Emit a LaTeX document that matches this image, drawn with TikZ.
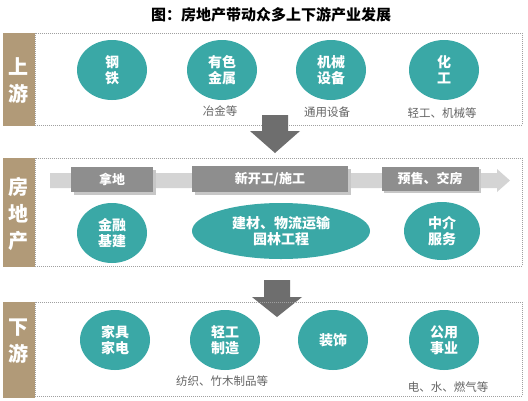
\documentclass[tikz,border=0pt]{standalone}
\usepackage{fontspec}
\setmainfont{Noto Sans CJK SC}
\usetikzlibrary{shapes.geometric}
\definecolor{teal1}{RGB}{58,168,166}
\definecolor{tan1}{RGB}{177,154,120}
\definecolor{gbox}{RGB}{142,142,142}
\definecolor{band}{RGB}{212,212,212}
\definecolor{darr}{RGB}{110,110,110}
\definecolor{dotc}{RGB}{160,160,160}
\definecolor{subc}{RGB}{100,100,100}
\tikzset{
  bub/.style={ellipse, fill=teal1, text=white, font=\bfseries\fontsize{14}{16}\selectfont, align=center, inner sep=0pt, minimum width=70pt, minimum height=60pt},
  sub/.style={text=subc, font=\fontsize{11.5}{13}\selectfont, inner sep=0pt},
  sect/.style={fill=tan1, draw=none},
  sectlab/.style={text=white, font=\bfseries\fontsize{20}{27}\selectfont, align=center, inner sep=0pt},
  frame/.style={draw=dotc, line width=0.9pt, dash pattern=on 0.9pt off 1.1pt},
  stage/.style={fill=gbox, text=white, font=\bfseries\fontsize{13}{15}\selectfont, inner sep=0pt},
  darrow/.style={fill=darr, draw=none}
}
\begin{document}
\begin{tikzpicture}[x=1pt,y=-1pt]
\useasboundingbox (0,0) rectangle (528,400);
\fill[white] (0,0) rectangle (528,400);
% title
\node[font=\bfseries\fontsize{15}{17}\selectfont, inner sep=0pt] (title) at (271,15) {图：房地产带动众多上下游产业发展};

% upper section
\draw[frame] (35,33) rectangle (522,125);
\fill[sect] (3,33) rectangle (35,126);
\node[sectlab] (up) at (19,80) {上\\游};
\node[bub] (u1) at (112,70) {钢\\铁};
\node[bub] (u2) at (222,70) {有色\\金属};
\node[bub] (u3) at (331,70) {机械\\设备};
\node[bub] (u4) at (444,70) {化\\工};
\node[sub] (s2) at (220,111) {冶金等};
\node[sub] (s3) at (327,112) {通用设备};
\node[sub] (s4) at (442,113) {轻工、机械等};

% arrow 1
\fill[darrow] (262,115) -- (288,115) -- (288,131) -- (300,131) -- (275,153) -- (250,131) -- (262,131) -- cycle;

% middle section
\draw[frame] (35,158) rectangle (522,266);
\fill[sect] (3,158) rectangle (35,267);
\node[sectlab] (mid) at (19,214) {房\\地\\产};
\fill[band] (50,173) -- (497,173) -- (497,169) -- (510,180.5) -- (497,192) -- (497,188) -- (50,188) -- cycle;
% shadows
\fill[black!22] (74,170) rectangle (156,195);
\fill[black!22] (195,169) rectangle (351,195);
\fill[black!22] (384,169) rectangle (481,193);
\node[stage, minimum width=82pt, minimum height=25pt] (b1) at (112,179.5) {拿地};
\node[stage, minimum width=156pt, minimum height=26pt] (b2) at (270,179) {新开工/施工};
\node[stage, minimum width=97pt, minimum height=24pt] (b3) at (430,178.5) {预售、交房};
\node[bub] (m1) at (112,233) {金融\\基建};
\node[bub, minimum width=178pt, minimum height=56pt] (m2) at (281,231) {建材、物流运输\\园林工程};
\node[bub, minimum width=76pt, minimum height=58pt] (m3) at (442,231) {中介\\服务};

% arrow 2
\fill[darrow] (264,280) -- (290,280) -- (290,297) -- (302,297) -- (277,317) -- (252,297) -- (264,297) -- cycle;

% lower section
\draw[frame] (35,302) rectangle (522,396);
\fill[sect] (3,302) rectangle (35,398);
\node[sectlab] (down) at (19,341) {下\\游};
\node[bub] (d1) at (115,340) {家具\\家电};
\node[bub] (d2) at (225,340) {轻工\\制造};
\node[bub] (d3) at (333,340) {装饰};
\node[bub] (d4) at (444,340) {公用\\事业};
\node[sub] (t2) at (222,381) {纺织、竹木制品等};
\node[sub] (t4) at (448,387) {电、水、燃气等};
\end{tikzpicture}
\end{document}
